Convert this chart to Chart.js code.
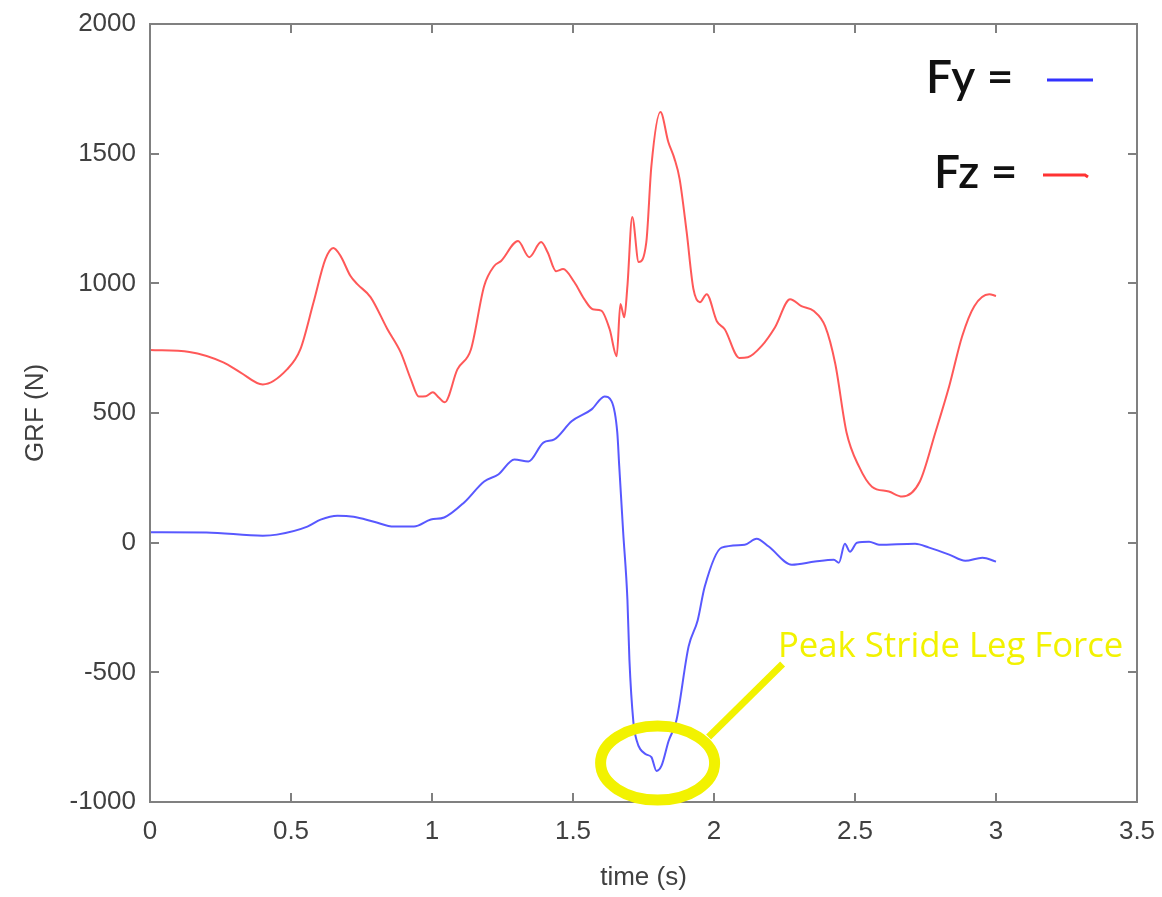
<!DOCTYPE html>
<html><head><meta charset="utf-8">
<script src="https://cdn.jsdelivr.net/npm/chart.js@4/dist/chart.umd.min.js"></script>
<style>html,body{margin:0;padding:0;background:#fff;overflow:hidden}</style>
</head><body>
<canvas id="c" width="1162" height="897" style="width:1162px;height:897px;display:block"></canvas>
<script>
// ---- data ----
const fzTime = [0, 0.14, 0.26, 0.32, 0.40, 0.486, 0.533, 0.58, 0.622, 0.65, 0.676, 0.711, 0.735, 0.782, 0.842, 0.889, 0.925, 0.953, 0.978, 1.003, 1.024, 1.045, 1.09, 1.138, 1.185, 1.22, 1.245, 1.305, 1.345, 1.387, 1.41, 1.44, 1.465, 1.505, 1.54, 1.57, 1.60, 1.63, 1.655, 1.668, 1.682, 1.693, 1.71, 1.733, 1.76, 1.778, 1.81, 1.838, 1.86, 1.878, 1.903, 1.927, 1.95, 1.974, 2.01, 2.038, 2.09, 2.12, 2.17, 2.216, 2.27, 2.31, 2.354, 2.394, 2.43, 2.47, 2.514, 2.56, 2.62, 2.667, 2.73, 2.785, 2.834, 2.88, 2.923, 2.976, 3.0];
const fzValues = [743, 735, 695, 657, 610, 668, 745, 927, 1093, 1136, 1105, 1028, 997, 947, 823, 734, 630, 564, 565, 580, 560, 541, 668, 745, 990, 1066, 1086, 1163, 1101, 1159, 1120, 1047, 1055, 1004, 939, 900, 895, 823, 719, 920, 869, 990, 1256, 1082, 1159, 1453, 1661, 1545, 1480, 1403, 1198, 978, 927, 958, 854, 823, 712, 715, 760, 830, 939, 912, 893, 835, 690, 425, 294, 216, 197, 178, 236, 425, 603, 796, 912, 958, 951];
const fyTime = [0, 0.2, 0.4, 0.45, 0.558, 0.605, 0.665, 0.722, 0.794, 0.865, 0.936, 0.996, 1.043, 1.114, 1.185, 1.235, 1.292, 1.342, 1.395, 1.434, 1.495, 1.566, 1.612, 1.637, 1.657, 1.664, 1.678, 1.693, 1.70, 1.714, 1.725, 1.757, 1.778, 1.796, 1.814, 1.839, 1.867, 1.91, 1.942, 1.967, 2.027, 2.109, 2.151, 2.194, 2.276, 2.358, 2.425, 2.443, 2.464, 2.482, 2.507, 2.55, 2.585, 2.713, 2.763, 2.834, 2.891, 2.952, 3.0];
const fyValues = [40, 39, 27, 31, 62, 89, 104, 100, 81, 62, 62, 89, 97, 155, 236, 263, 321, 313, 386, 398, 468, 514, 564, 545, 425, 294, 39, -220, -450, -690, -760, -815, -827, -880, -860, -765, -684, -400, -300, -170, -19, -8, 15, -15, -85, -73, -66, -77, -4, -35, 0, 4, -8, -4, -19, -46, -70, -58, -73];
const seriesNames = ['Fy =', 'Fz ='];
const xAxisTitle = 'time (s)';
const yAxisTitle = 'GRF (N)';
const annotationText = 'Peak Stride Leg Force';
const annotationPoint = [1.8, -850]; // circled minimum (time, force)

const BLUE = 'rgba(70,70,255,0.9)';
const RED = 'rgba(255,70,70,0.9)';
const YELLOW = '#f2f200';

function pairs(xs, ys) { return xs.map((x, i) => ({ x: x, y: ys[i] })); }

const framePlugin = {
  id: 'frame',
  afterDatasetsDraw(chart) {
    const ctx = chart.ctx, a = chart.chartArea;
    const sx = chart.scales.x, sy = chart.scales.y;
    ctx.save();
    ctx.strokeStyle = '#808080';
    ctx.lineWidth = 2;
    ctx.strokeRect(a.left, a.top, a.right - a.left, a.bottom - a.top);
    const tl = 9;
    ctx.beginPath();
    sx.ticks.forEach(t => {
      const px = Math.round(sx.getPixelForValue(t.value));
      ctx.moveTo(px, a.bottom); ctx.lineTo(px, a.bottom - tl);
      ctx.moveTo(px, a.top); ctx.lineTo(px, a.top + tl);
    });
    sy.ticks.forEach(t => {
      const py = Math.round(sy.getPixelForValue(t.value));
      ctx.moveTo(a.left, py); ctx.lineTo(a.left + tl, py);
      ctx.moveTo(a.right, py); ctx.lineTo(a.right - tl, py);
    });
    ctx.stroke();
    ctx.restore();
  },
  afterDraw(chart) {
    const ctx = chart.ctx;
    const sx = chart.scales.x, sy = chart.scales.y;
    ctx.save();
    // legend
    ctx.fillStyle = '#111';
    ctx.font = '600 46px Lato, "Open Sans", sans-serif';
    ctx.textBaseline = 'alphabetic';
    ctx.textAlign = 'left';
    ctx.fillText(seriesNames[0], 926, 93);
    ctx.fillText(seriesNames[1], 934, 188);
    ctx.lineWidth = 3;
    ctx.strokeStyle = 'rgb(50,50,255)';
    ctx.beginPath(); ctx.moveTo(1047, 80); ctx.lineTo(1093, 80); ctx.stroke();
    ctx.strokeStyle = 'rgb(255,50,50)';
    ctx.beginPath(); ctx.moveTo(1043, 175); ctx.lineTo(1085, 175); ctx.lineTo(1088, 177); ctx.stroke();
    // annotation
    const cx = sx.getPixelForValue(annotationPoint[0]);
    const cy = sy.getPixelForValue(annotationPoint[1]);
    ctx.strokeStyle = YELLOW;
    ctx.lineWidth = 11;
    ctx.beginPath(); ctx.ellipse(cx, cy, 57, 37, 0, 0, Math.PI * 2); ctx.stroke();
    ctx.lineWidth = 7;
    ctx.beginPath(); ctx.moveTo(cx + 51, cy - 26); ctx.lineTo(cx + 125, cy - 99); ctx.stroke();
    ctx.fillStyle = YELLOW;
    let fs = 31;
    ctx.font = fs + 'px "Open Sans", Lato, sans-serif';
    const w = ctx.measureText(annotationText).width;
    fs = fs * 345 / w;
    ctx.font = fs.toFixed(1) + 'px "Open Sans", Lato, sans-serif';
    ctx.fillText(annotationText, 778, 657);
    ctx.restore();
  }
};

new Chart(document.getElementById('c'), {
  type: 'line',
  data: {
    datasets: [
      { label: seriesNames[0], data: pairs(fyTime, fyValues), borderColor: BLUE, borderWidth: 2, pointRadius: 0, cubicInterpolationMode: 'monotone', fill: false },
      { label: seriesNames[1], data: pairs(fzTime, fzValues), borderColor: RED, borderWidth: 2, pointRadius: 0, cubicInterpolationMode: 'monotone', fill: false }
    ]
  },
  options: {
    responsive: false,
    animation: false,
    devicePixelRatio: 1,
    layout: { padding: { top: 24, right: 25, left: 0, bottom: 0 } },
    plugins: { legend: { display: false }, tooltip: { enabled: false } },
    scales: {
      x: {
        type: 'linear', min: 0, max: 3.5,
        ticks: { stepSize: 0.5, color: '#404040', font: { family: 'Liberation Sans, Arial, sans-serif', size: 26 }, padding: 14, maxRotation: 0, callback: v => String(v) },
        grid: { drawOnChartArea: false, drawTicks: false },
        border: { display: false },
        title: { display: true, text: xAxisTitle, color: '#404040', font: { family: 'Liberation Sans, Arial, sans-serif', size: 26 }, padding: { top: 0, bottom: 4 } },
        afterFit(scale) { scale.height = 95; scale.paddingLeft = 0; scale.paddingRight = 0; }
      },
      y: {
        type: 'linear', min: -1000, max: 2000,
        ticks: { stepSize: 500, color: '#404040', font: { family: 'Liberation Sans, Arial, sans-serif', size: 26 }, padding: 14, callback: v => String(v) },
        grid: { drawOnChartArea: false, drawTicks: false },
        border: { display: false },
        title: { display: true, text: yAxisTitle, color: '#404040', font: { family: 'Liberation Sans, Arial, sans-serif', size: 26 }, padding: { top: 20, bottom: 0 } },
        afterFit(scale) { scale.width = 150; scale.paddingTop = 0; scale.paddingBottom = 0; }
      }
    }
  },
  plugins: [framePlugin]
});
</script>
</body></html>
